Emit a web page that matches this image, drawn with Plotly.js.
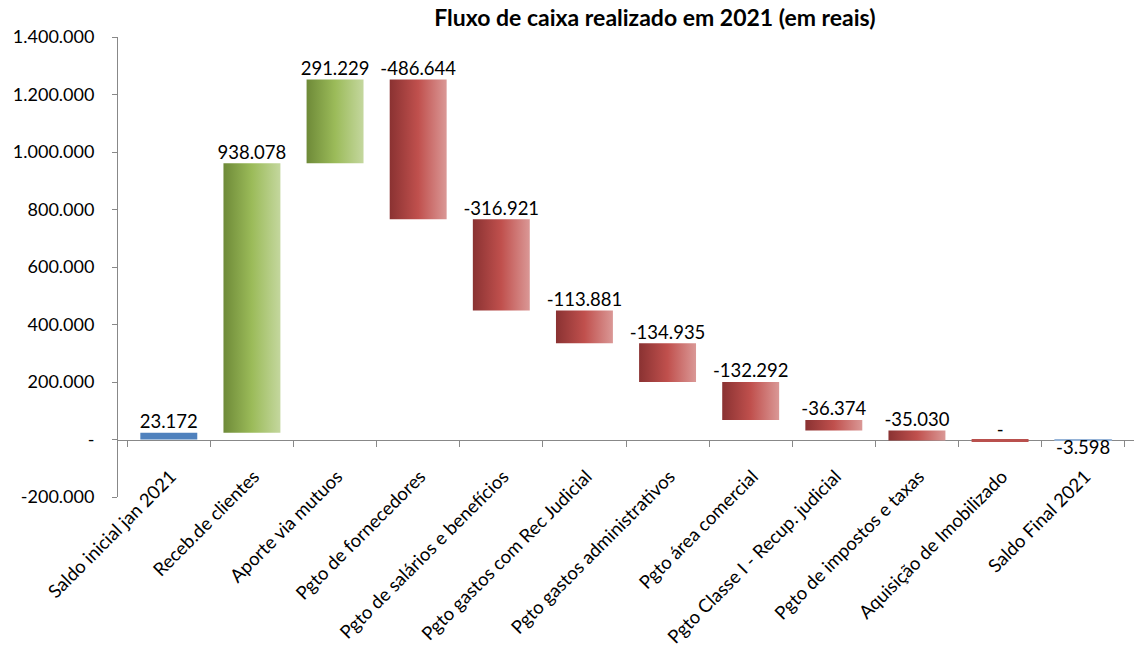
<!DOCTYPE html>
<html>
<head>
<meta charset="utf-8">
<script src="https://cdn.plot.ly/plotly-3.0.1.min.js"></script>
<style>
html,body{margin:0;padding:0;background:#fff;}
#chart{width:1137px;height:653px;}
</style>
</head>
<body>
<div id="chart"></div>
<script>
// ---- data ----
var categories = [
  "Saldo inicial jan 2021",
  "Receb.de clientes",
  "Aporte via mutuos",
  "Pgto de fornecedores",
  "Pgto de salários e benefícios",
  "Pgto gastos com Rec Judicial",
  "Pgto gastos administrativos",
  "Pgto área comercial",
  "Pgto Classe I - Recup. judicial",
  "Pgto de impostos e taxas",
  "Aquisição de Imobilizado",
  "Saldo Final 2021"
];
var values = [23172, 938078, 291229, -486644, -316921, -113881, -134935, -132292, -36374, -35030, 0, -3598];
var kinds  = ["total","step","step","step","step","step","step","step","step","step","step","total"];
var yTickVals = [-200000, 0, 200000, 400000, 600000, 800000, 1000000, 1200000, 1400000];
var yTickText = ["-200.000", "-", "200.000", "400.000", "600.000", "800.000", "1.000.000", "1.200.000", "1.400.000"];
var chartTitle = "Fluxo de caixa realizado em 2021 (em reais)";

// ---- helpers ----
function fmt(v){
  if (v === 0) return "-";
  var s = Math.abs(v).toString().replace(/\B(?=(\d{3})+(?!\d))/g, ".");
  return (v < 0 ? "-" : "") + s;
}

var running = 0;
var bases = [], heights = [];
categories.forEach(function(c, i){
  var v = values[i];
  if (kinds[i] === "total") {
    bases.push(0); heights.push(v); running = v;
  } else {
    bases.push(running); heights.push(v); running += v;
  }
});

function pick(cond){
  return {
    y: heights.map(function(h,i){ return cond(i) ? h : null; }),
    base: bases.map(function(b,i){ return cond(i) ? b : null; })
  };
}
var tot = pick(function(i){ return kinds[i] === "total"; });
var pos = pick(function(i){ return kinds[i] === "step" && values[i] > 0; });
var neg = pick(function(i){ return kinds[i] === "step" && values[i] <= 0; });

var font = "Lato, 'Open Sans', sans-serif";

var traces = [
  { type:"bar", x:categories, y:tot.y, base:tot.base, name:"total",
    marker:{ color: categories.map(function(c,i){ return i === 0 ? "#4F81BD" : "#95B3D7"; }),
             line:{ color:"#95B3D7", width: categories.map(function(c,i){ return i === 0 ? 0 : 1; }) } },
    hoverinfo:"skip" },
  { type:"bar", x:categories, y:pos.y, base:pos.base, name:"pos",
    marker:{ color:"#9BBB59", line:{width:0} }, hoverinfo:"skip" },
  { type:"bar", x:categories, y:neg.y, base:neg.base, name:"neg",
    marker:{ color:"#C0504D",
             line:{ color:"#B9504D", width: values.map(function(v){ return v === 0 ? 3 : 0; }) } },
    hoverinfo:"skip" },
  { type:"scatter", mode:"text", x:categories,
    y: bases.map(function(b,i){
      var e = b + heights[i];
      return i === categories.length - 1 ? Math.min(b, e) : Math.max(b, e);
    }),
    text: values.map(fmt),
    textposition: categories.map(function(c,i){ return i === categories.length - 1 ? "bottom center" : "top center"; }),
    textfont:{ family:font, size:18.5, color:"#000" },
    cliponaxis:false, hoverinfo:"skip", showlegend:false }
];

var layout = {
  width:1137, height:653,
  margin:{ l:118, r:3, t:37, b:156 },
  paper_bgcolor:"#fff", plot_bgcolor:"#fff",
  showlegend:false,
  barmode:"overlay",
  bargap:0.315,
  font:{ family:font, size:18, color:"#000" },
  title:{ text:chartTitle, x:0.576, xanchor:"center", y:0.972, yanchor:"middle",
          font:{ family:font, size:23, color:"#000", weight:"bold" } },
  xaxis:{ type:"category", anchor:"free", position:0.125, layer:"below traces",
          showline:true, linecolor:"#888", linewidth:1,
          ticks:"outside", ticklen:6, tickcolor:"#888", tickson:"boundaries",
          tickangle:-45, ticklabelstandoff:18, ticklabelshift:2,
          tickfont:{ family:font, size:18.5, color:"#000" },
          showgrid:false, zeroline:false, automargin:false },
  yaxis:{ range:[-200000, 1400000], tickmode:"array", tickvals:yTickVals, ticktext:yTickText,
          showline:true, linecolor:"#888", linewidth:1,
          ticks:"outside", ticklen:5, tickcolor:"#888", ticklabelstandoff:14,
          tickfont:{ family:font, size:18, color:"#000" },
          showgrid:false, zeroline:false, automargin:false }
};

Plotly.newPlot("chart", traces, layout, { staticPlot:true, displayModeBar:false }).then(function(gd){
  var svgNS = "http://www.w3.org/2000/svg";
  var defs = gd.querySelector(".main-svg defs");
  function addGrad(id, stops){
    var g = document.createElementNS(svgNS, "linearGradient");
    g.setAttribute("id", id);
    g.setAttribute("x1","0"); g.setAttribute("y1","0");
    g.setAttribute("x2","1"); g.setAttribute("y2","0");
    stops.forEach(function(s){
      var st = document.createElementNS(svgNS, "stop");
      st.setAttribute("offset", s[0]);
      st.setAttribute("stop-color", s[1]);
      g.appendChild(st);
    });
    defs.appendChild(g);
  }
  addGrad("gradGreen", [["0%","#6E8A38"],["50%","#9BBB59"],["100%","#C4D79E"]]);
  addGrad("gradRed",   [["0%","#8A3232"],["50%","#C0504D"],["100%","#DA9896"]]);
  var barTraces = gd.querySelectorAll(".barlayer .trace");
  var fills = [null, "url(#gradGreen)", "url(#gradRed)"];
  barTraces.forEach(function(t, k){
    if (!fills[k]) return;
    t.querySelectorAll("path").forEach(function(p){ p.style.fill = fills[k]; });
  });
});
</script>
</body>
</html>
